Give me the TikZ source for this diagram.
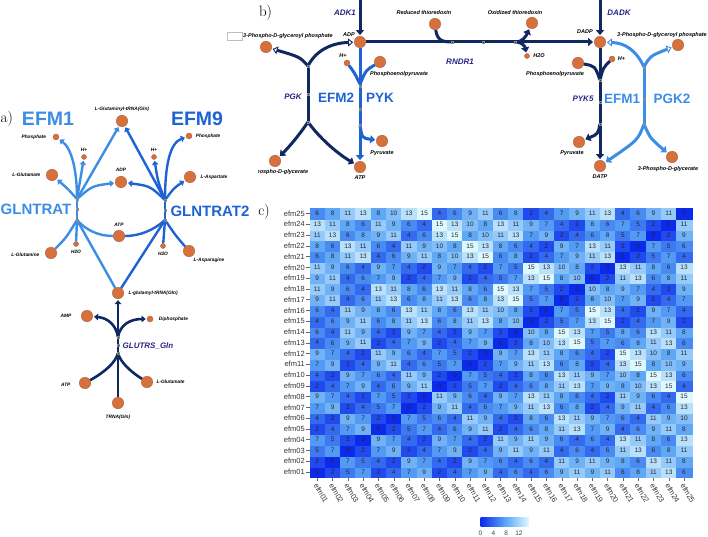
\documentclass[tikz,border=0pt]{standalone}
\usepackage{fontspec}
\setsansfont{Liberation Sans}
\usetikzlibrary{positioning,arrows.meta}
\definecolor{EfmLight}{RGB}{60,141,228}
\definecolor{EfmMid}{RGB}{30,98,212}
\definecolor{PathNavy}{RGB}{16,40,96}
\definecolor{RxnIndigo}{RGB}{40,36,130}
\definecolor{MetOrange}{RGB}{214,112,60}
\definecolor{HmLow}{RGB}{12,42,235}
\definecolor{HmMid}{RGB}{88,162,245}
\definecolor{HmHigh}{RGB}{222,248,255}
\tikzset{
  met/.style={circle,fill=MetOrange,draw=MetOrange!75!black,line width=0.3pt,inner sep=0pt},
  bigmet/.style={met,minimum size=11.5pt},
  smallmet/.style={met,minimum size=6pt},
  tinymet/.style={met,minimum size=5pt},
  metlab/.style={font=\sffamily\bfseries\itshape\fontsize{4.8}{5}\selectfont,inner sep=0.5pt},
  metlabB/.style={font=\sffamily\bfseries\itshape\fontsize{5.5}{6}\selectfont,inner sep=0.5pt},
  rxnlab/.style={font=\sffamily\bfseries\itshape\fontsize{8}{9}\selectfont,text=RxnIndigo},
  efmA/.style={font=\sffamily\bfseries\fontsize{19.5}{20}\selectfont,inner sep=0pt},
  efmR/.style={font=\sffamily\bfseries\fontsize{15}{16}\selectfont,inner sep=0pt},
  efmB/.style={font=\sffamily\bfseries\fontsize{13.5}{14}\selectfont,inner sep=0pt},
  panellab/.style={font=\fontsize{15}{15}\selectfont,inner sep=0pt},
  lightrxn/.style={draw=EfmLight,line width=2.4pt},
  midrxn/.style={draw=EfmMid,line width=2.4pt},
  navyrxnA/.style={draw=PathNavy,line width=2.6pt},
  navyrxn/.style={draw=PathNavy,line width=3pt},
  bluerxn/.style={draw=EfmMid,line width=3pt},
  lightrxnB/.style={draw=EfmLight,line width=3pt},
  prodA/.style={-{Triangle[length=4pt,width=6.5pt]},shorten >=1.2pt},
  prodB/.style={-{Triangle[length=5pt,width=8pt]},shorten >=1pt},
  revB/.style={-{Triangle[length=5pt,width=8pt,fill=white,line width=0.9pt]},shorten >=1pt},
  rxnmark/.style={rectangle,draw=black!45,line width=0.35pt,minimum size=2.4pt,inner sep=0pt},
  hmcell/.style={rectangle,minimum width=15.28pt,minimum height=10.77pt,inner sep=0pt,
    line width=0.2pt,font=\sffamily\fontsize{6.5}{7}\selectfont,text=black!85},
  rowlab/.style={anchor=east,inner sep=0pt,font=\sffamily\fontsize{7.5}{8}\selectfont,text=black!80},
  collab/.style={anchor=west,rotate=-60,inner sep=0pt,font=\sffamily\fontsize{7.5}{8}\selectfont,text=black!80},
  leglab/.style={inner sep=0pt,font=\sffamily\fontsize{6.5}{7}\selectfont,text=black!75},
  axtick/.style={draw=black!60,line width=0.4pt}
}

\begin{document}
\begin{tikzpicture}[x=1pt,y=-1pt]
  \useasboundingbox (0,0) rectangle (708,537);

  % a) GLNTRAT / GLNTRAT2 / GLUTRS_Gln
  \node[panellab,anchor=west] (panA) at (0.5,119) {a)};
  \node[efmA,text=EfmLight] (efm1A) at (48,119) {EFM1};
  \node[efmA,text=EfmMid] (efm9A) at (197,119) {EFM9};
  \node[efmR,text=EfmLight] (glntratL) at (36,209) {GLNTRAT};
  \node[efmR,text=EfmMid] (glntrat2L) at (210,211) {GLNTRAT2};

  \node[bigmet] (glntrna) at (122,121) {};
  \node[metlab,above=3pt of glntrna] (glntrnaL) {L-Glutaminyl-tRNA(Gln)};
  \node[smallmet] (phosA1) at (56,137) {};
  \node[metlab,left=6pt of phosA1] (phosA1L) {Phosphate};
  \node[tinymet] (hA1) at (84,157) {};
  \node[metlab,above=2.5pt of hA1] (hA1L) {H+};
  \node[bigmet] (gluA1) at (52,175) {};
  \node[metlab,left=5pt of gluA1] (gluA1L) {L-Glutamate};
  \node[bigmet] (adpA) at (121,182) {};
  \node[metlab,above=3.5pt of adpA] (adpAL) {ADP};
  \node[tinymet] (hA2) at (154,157) {};
  \node[metlab,above=2.5pt of hA2] (hA2L) {H+};
  \node[smallmet] (phosA2) at (189,136) {};
  \node[metlab,right=3pt of phosA2] (phosA2L) {Phosphate};
  \node[bigmet] (aspA) at (190,177) {};
  \node[metlab,right=4pt of aspA] (aspAL) {L-Aspartate};
  \node[bigmet] (atpA) at (119,236) {};
  \node[metlab,above=3pt of atpA] (atpAL) {ATP};
  \node[bigmet] (glnA) at (51,253) {};
  \node[metlab,left=5pt of glnA,yshift=-2pt] (glnAL) {L-Glutamine};
  \node[tinymet] (h2oA1) at (76,244) {};
  \node[metlab,below=3pt of h2oA1] (h2oA1L) {H2O};
  \node[tinymet] (h2oA2) at (163,246) {};
  \node[metlab,below=3pt of h2oA2] (h2oA2L) {H2O};
  \node[bigmet] (asnA) at (189,251) {};
  \node[metlab,anchor=west] (asnAL) at (193,260) {L-Asparagine};
  \node[bigmet] (glutrna) at (118,293) {};
  \node[metlab,right=4pt of glutrna] (glutrnaL) {L-glutamyl-tRNA(Gln)};
  \node[bigmet] (ampA) at (87,316) {};
  \node[metlab,left=9pt of ampA] (ampAL) {AMP};
  \node[smallmet] (ppiA) at (150,319) {};
  \node[metlab,right=5pt of ppiA] (ppiAL) {Diphosphate};
  \node[bigmet] (atpA2) at (85,383) {};
  \node[metlab,left=8pt of atpA2,yshift=-2pt] (atpA2L) {ATP};
  \node[bigmet] (gluA2) at (147,382) {};
  \node[metlab,right=3pt of gluA2] (gluA2L) {L-Glutamate};
  \node[bigmet] (trnaA) at (118,403) {};
  \node[metlab,below=5pt of trnaA] (trnaAL) {TRNA(Gln)};

  \coordinate (uA1) at (77,199);
  \coordinate (lA1) at (77,220);
  \draw[lightrxn] (uA1) -- (lA1);
  \draw[lightrxn,prodA] (uA1) -- (glntrna);
  \draw[lightrxn,prodA] (uA1) .. controls (77,168) and (71,148) .. (phosA1);
  \draw[lightrxn,prodA] (uA1) .. controls (80,182) .. (hA1);
  \draw[lightrxn,prodA] (uA1) .. controls (68,189) .. (gluA1);
  \draw[lightrxn,prodA] (uA1) .. controls (92,186) .. (adpA);
  \draw[lightrxn] (glnA) .. controls (66,238) .. (lA1);
  \draw[lightrxn] (h2oA1) -- (lA1);
  \draw[lightrxn] (atpA) .. controls (98,236) and (86,230) .. (lA1);
  \draw[lightrxn] (glutrna) -- (lA1);

  \coordinate (uA2) at (165,200);
  \coordinate (lA2) at (165,220);
  \draw[midrxn] (uA2) -- (lA2);
  \draw[midrxn,prodA] (uA2) -- (glntrna);
  \draw[midrxn,prodA] (uA2) .. controls (165,165) and (170,143) .. (phosA2);
  \draw[midrxn,prodA] (uA2) .. controls (158,182) .. (hA2);
  \draw[midrxn,prodA] (uA2) .. controls (174,188) .. (aspA);
  \draw[midrxn,prodA] (uA2) .. controls (150,186) .. (adpA);
  \draw[midrxn] (asnA) .. controls (176,236) .. (lA2);
  \draw[midrxn] (h2oA2) -- (lA2);
  \draw[midrxn] (atpA) .. controls (140,236) and (154,230) .. (lA2);
  \draw[midrxn] (glutrna) -- (lA2);

  \coordinate (gA1) at (118,337);
  \coordinate (gA2) at (118,353);
  \draw[navyrxnA] (trnaA) -- (gA2) -- (gA1);
  \draw[navyrxnA,prodA] (gA1) -- (glutrna);
  \draw[navyrxnA] (atpA2) .. controls (105,372) and (116,362) .. (gA2);
  \draw[navyrxnA] (gluA2) .. controls (131,372) and (120,362) .. (gA2);
  \draw[navyrxnA,prodA] (gA1) .. controls (116,325) and (108,318) .. (ampA);
  \draw[navyrxnA,prodA] (gA1) .. controls (120,325) and (130,319) .. (ppiA);
  \node[rxnlab] (glutrsL) at (148,346) {GLUTRS\_Gln};

  % b) ADK1 / PGK / PYK / RNDR1 / DADK / PYK5 / PGK2
  \node[panellab] (panB) at (265.5,13) {b)};
  \coordinate (adkTop) at (360,0);
  \node[bigmet] (adpB) at (360,42) {};
  \draw[navyrxn,prodB] (adkTop) -- (adpB);
  \node[rxnlab] (adkL) at (345,13) {ADK1};
  \node[metlabB] (adpBL) at (349,35) {ADP};

  \node[draw=black!25,line width=0.4pt,minimum width=15pt,minimum height=8pt,inner sep=0pt] (blankBox) at (234.5,36) {};
  \node[bigmet] (pdgpB) at (266,47) {};
  \node[metlabB] (pdgpBL) at (288,36) {3-Phospho-D-glyceroyl phosphate};
  \node[bigmet] (pgB) at (275,161) {};
  \begin{scope}
    \clip (258,163) rectangle (330,181);
    \node[metlabB] (pgBL) at (278,172) {3-Phospho-D-glycerate};
  \end{scope}
  \node[bigmet] (atpB) at (360,167) {};
  \node[metlabB,below=2.5pt of atpB] (atpBL) {ATP};

  \coordinate (pB1) at (308,66);
  \coordinate (pB2) at (308,122);
  \draw[navyrxn] (pB1) -- (pB2);
  \draw[navyrxn,revB] (pB1) .. controls (300,57) .. (pdgpB);
  \draw[navyrxn,revB] (pB1) .. controls (316,50) and (332,43) .. (adpB);
  \draw[navyrxn,prodB] (pB2) .. controls (300,134) and (290,146) .. (pgB);
  \draw[navyrxn,prodB] (pB2) .. controls (318,136) and (335,152) .. (atpB);
  \node[rxnlab] (pgkL) at (293,97) {PGK};

  \node[smallmet] (hB) at (347,63) {};
  \node[metlabB] (hBL) at (343,56) {H+};
  \node[bigmet] (pepB) at (380,62) {};
  \node[metlabB] (pepBL) at (399,74) {Phosphoenolpyruvate};
  \node[bigmet] (pyrB) at (382,141) {};
  \node[metlabB,below=3pt of pyrB] (pyrBL) {Pyruvate};
  \coordinate (yB1) at (360,84);
  \coordinate (yB2) at (360,125);
  \draw[bluerxn] (adpB) -- (yB1) -- (yB2);
  \draw[bluerxn,prodB] (yB2) -- (atpB);
  \draw[bluerxn] (hB) .. controls (354,72) .. (yB1);
  \draw[bluerxn] (pepB) .. controls (366,70) .. (yB1);
  \draw[bluerxn,prodB] (yB2) .. controls (362,138) .. (pyrB);
  \node[efmB,text=EfmMid] (efm2B) at (336,98) {EFM2};
  \node[efmB,text=EfmMid] (pykL) at (380,98) {PYK};

  \node[bigmet] (redtx) at (435,24) {};
  \node[metlabB] (redtxL) at (424,13) {Reduced thioredoxin};
  \node[bigmet] (oxtx) at (532,23) {};
  \node[metlabB] (oxtxL) at (515,13) {Oxidized thioredoxin};
  \node[tinymet] (h2oB) at (527,56) {};
  \node[metlabB,right=3pt of h2oB] (h2oBL) {H2O};
  \node[bigmet] (dadp) at (600,42) {};
  \coordinate (rB1) at (452,42);
  \coordinate (rB2) at (483,42);
  \coordinate (rB3) at (515,42);
  \draw[navyrxn] (adpB) -- (rB1) -- (rB2) -- (rB3);
  \draw[navyrxn,prodB] (rB3) -- (dadp);
  \draw[navyrxn] (redtx) .. controls (437,40) and (442,42) .. (rB1);
  \draw[navyrxn,prodB] (rB3) .. controls (523,42) and (526,36) .. (oxtx);
  \draw[navyrxn,prodB] (rB3) .. controls (523,42) and (525,47) .. (h2oB);
  \node[rxnlab] (rndrL) at (460,62) {RNDR1};

  \coordinate (dadkTop) at (600,0);
  \draw[navyrxn,prodB] (dadkTop) -- (dadp);
  \node[rxnlab] (dadkL) at (619,13) {DADK};
  \node[metlabB] (dadpL) at (585,32) {DADP};

  \node[bigmet] (pdgpC) at (678,45) {};
  \node[metlabB] (pdgpCL) at (662,35) {3-Phospho-D-glyceroyl phosphate};
  \node[bigmet] (pgC) at (672,157) {};
  \node[metlabB] (pgCL) at (668,169) {3-Phospho-D-glycerate};
  \node[bigmet] (datp) at (600,166) {};
  \node[metlabB,below=2.5pt of datp] (datpL) {DATP};

  \node[bigmet] (pepC) at (578,63) {};
  \node[metlabB] (pepCL) at (555,74) {Phosphoenolpyruvate};
  \node[smallmet] (hC) at (612,59) {};
  \node[metlabB,right=2pt of hC] (hCL) {H+};
  \node[bigmet] (pyrC) at (579,142) {};
  \node[metlabB] (pyrCL) at (572,153) {Pyruvate};
  \coordinate (cB1) at (600,80);
  \coordinate (cB2) at (600,124);
  \draw[navyrxn] (dadp) -- (cB1) -- (cB2);
  \draw[navyrxn,prodB] (cB2) -- (datp);
  \draw[navyrxn] (pepC) .. controls (595,66) .. (cB1);
  \draw[navyrxn] (hC) .. controls (603,68) .. (cB1);
  \draw[navyrxn,prodB] (cB2) .. controls (598,134) .. (pyrC);
  \node[rxnlab] (pyk5L) at (583,99) {PYK5};

  \coordinate (qB1) at (644,67);
  \coordinate (qB2) at (644,124);
  \draw[lightrxnB] (qB1) -- (qB2);
  \draw[lightrxnB,revB] (qB1) .. controls (636,50) and (625,43) .. (dadp);
  \draw[lightrxnB,revB] (qB1) .. controls (650,56) .. (pdgpC);
  \draw[lightrxnB,prodB] (qB2) .. controls (638,140) .. (datp);
  \draw[lightrxnB,prodB] (qB2) .. controls (650,138) .. (pgC);
  \node[efmB,text=EfmLight] (efm1B) at (622,99) {EFM1};
  \node[efmB,text=EfmLight] (pgk2L) at (672,99) {PGK2};

  % junction markers
  \foreach \m [count=\k] in {(77,199),(77,209),(77,220),(165,200),(165,210),(165,220),
      (118,337),(118,345),(118,353),(308,66),(308,94),(308,122),(360,86),(360,109),(360,125),
      (600,80),(600,102),(600,124),(644,67),(644,99),(644,124),(452,42),(483,42),(515,42)}
    \node[rxnmark] (mk\k) at \m {};

  % c) distance heatmap
  \node[panellab] (panC) at (264,212) {c)};
  \foreach \hrow [count=\ri] in {
      {0,2,5,7,2,4,7,9,2,4,7,9,4,6,4,6,9,11,9,11,6,8,11,13,6},
      {2,0,7,5,4,2,9,7,4,2,9,7,6,4,6,4,11,9,11,9,8,6,13,11,8},
      {5,7,0,2,7,9,2,4,7,9,2,4,9,11,9,11,4,6,4,6,11,13,6,8,11},
      {7,5,2,0,9,7,4,2,9,7,4,2,11,9,11,9,6,4,6,4,13,11,8,6,13},
      {2,4,7,9,0,2,5,7,4,6,9,11,2,4,6,8,11,13,7,9,4,6,9,11,8},
      {4,2,9,7,2,0,7,5,6,4,11,9,4,2,8,6,13,11,9,7,6,4,11,9,10},
      {7,9,2,4,5,7,0,2,9,11,4,6,7,9,11,13,6,8,2,4,9,11,4,6,13},
      {9,7,4,2,7,5,2,0,11,9,6,4,9,7,13,11,8,6,4,2,11,9,6,4,15},
      {2,4,7,9,4,6,9,11,0,2,5,7,2,4,6,8,11,13,7,9,8,10,13,15,4},
      {4,2,9,7,6,4,11,9,2,0,7,5,4,2,8,6,13,11,9,7,10,8,15,13,6},
      {7,9,2,4,9,11,4,6,5,7,0,2,7,9,11,13,6,8,2,4,13,15,8,10,9},
      {9,7,4,2,11,9,6,4,7,5,2,0,9,7,13,11,8,6,4,2,15,13,10,8,11},
      {4,6,9,11,2,4,7,9,2,4,7,9,0,2,8,10,13,15,5,7,6,8,11,13,6},
      {6,4,11,9,4,2,9,7,4,2,9,7,2,0,10,8,15,13,7,5,8,6,13,11,8},
      {4,6,9,11,6,8,11,13,6,8,11,13,8,10,0,2,5,7,13,15,2,4,7,9,2},
      {6,4,11,9,8,6,13,11,8,6,13,11,10,8,2,0,7,5,15,13,4,2,9,7,4},
      {9,11,4,6,11,13,6,8,11,13,6,8,13,15,5,7,0,2,8,10,7,9,2,4,7},
      {11,9,6,4,13,11,8,6,13,11,8,6,15,13,7,5,2,0,10,8,9,7,4,2,9},
      {9,11,4,6,7,9,2,4,7,9,2,4,5,7,13,15,8,10,0,2,11,13,6,8,11},
      {11,9,6,4,9,7,4,2,9,7,4,2,7,5,15,13,10,8,2,0,13,11,8,6,13},
      {6,8,11,13,4,6,9,11,8,10,13,15,6,8,2,4,7,9,11,13,0,2,5,7,4},
      {8,6,13,11,6,4,11,9,10,8,15,13,8,6,4,2,9,7,13,11,2,0,7,5,6},
      {11,13,6,8,9,11,4,6,13,15,8,10,11,13,7,9,2,4,6,8,5,7,0,2,9},
      {13,11,8,6,11,9,6,4,15,13,10,8,13,11,9,7,4,2,8,6,7,5,2,0,11},
      {6,8,11,13,8,10,13,15,4,6,9,11,6,8,2,4,7,9,11,13,4,6,9,11,0}} {
    \foreach \v [count=\ci] in \hrow {
      \pgfmathsetmacro\cx{317.3+(\ci-1)*15.28}
      \pgfmathsetmacro\cy{472-(\ri-1)*10.77}
      \pgfmathtruncatemacro\pa{min(\v,7.5)/7.5*100}
      \pgfmathtruncatemacro\pb{max(\v-7.5,0)/7.5*100}
      \colorlet{tmpc}{HmMid!\pa!HmLow}
      \colorlet{cellc}{HmHigh!\pb!tmpc}
      \node[hmcell,fill=cellc,draw=cellc] (cell-\ri-\ci) at (\cx,\cy) {\v};
    }
  }
  \foreach \k in {1,...,25} {
    \pgfmathsetmacro\cy{472-(\k-1)*10.77}
    \pgfmathsetmacro\cx{317.3+(\k-1)*15.28}
    \ifnum\k<10 \def\lab{efm0\k}\else\def\lab{efm\k}\fi
    \node[rowlab] (rlab-\k) at (305,\cy) {\lab};
    \draw[axtick] (306,\cy) -- (309.5,\cy);
    \draw[axtick] (\cx,477.6) -- (\cx,480.6);
    \node[collab] (clab-\k) at (\cx-1.5,484) {\lab};
  }

  % colour key
  \shade[left color=HmLow,right color=HmMid] (480.5,517) rectangle (504.5,526);
  \shade[left color=HmMid,right color=HmHigh] (504.5,517) rectangle (528.5,526);
  \foreach \t in {0,4,8,12}
    \node[leglab] (leg-\t) at ({480.5+\t*3.2},533) {\t};
\end{tikzpicture}
\end{document}
